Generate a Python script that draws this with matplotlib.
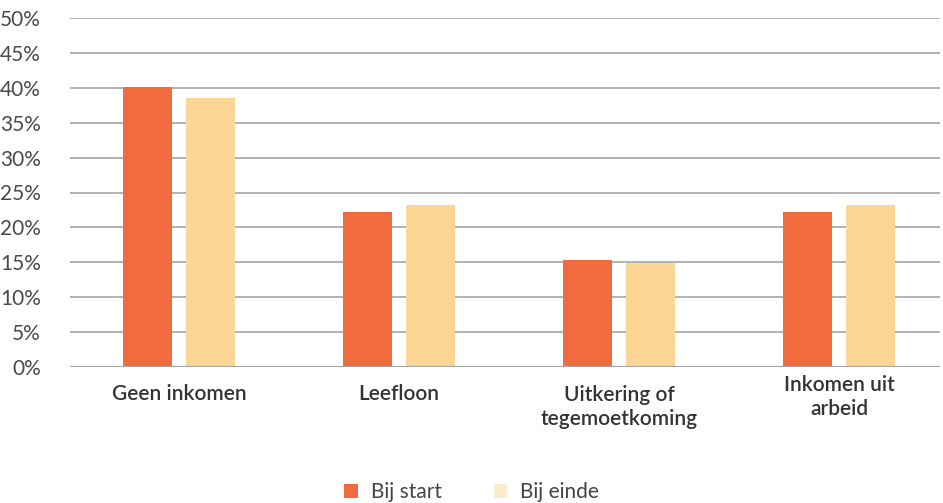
import numpy as np
import matplotlib.pyplot as plt
from matplotlib.patches import Patch
from matplotlib.transforms import blended_transform_factory

plt.rcParams["font.family"] = ["Lato", "DejaVu Sans"]

categorieen = ["Geen inkomen", "Leefloon", "Uitkering of\ntegemoetkoming", "Inkomen uit\narbeid"]
bij_start = [40.1, 22.2, 15.4, 22.2]
bij_einde = [38.6, 23.2, 14.9, 23.2]
yticks = [0, 5, 10, 15, 20, 25, 30, 35, 40, 45, 50]

ORANJE = "#F26B3F"
GEEL = "#FCD695"

fig = plt.figure(figsize=(9.43, 5.03), dpi=100)
ax = fig.add_axes([70 / 943, 1 - 367 / 503, 870 / 943, 349 / 503])

x = np.arange(len(categorieen))
b = 0.223
ax.bar(x - 0.143, bij_start, width=b, color=ORANJE, zorder=3)
ax.bar(x + 0.143, bij_einde, width=b, color=GEEL, zorder=3)

ax.set_xlim(-0.495, 3.459)
ax.set_ylim(0, 50)
ax.set_yticks(yticks)
ax.set_yticklabels([f"{v}%" for v in yticks], fontsize=15, color="#4a4a4a")
ax.tick_params(axis="y", length=0, pad=21)
ax.set_xticks([])
ax.yaxis.grid(True, color="#A6A6A6", linewidth=1.2, zorder=0)
for s in ax.spines.values():
    s.set_visible(False)
ax.axhline(0, color="#A6A6A6", linewidth=1.6, zorder=4)

# categorielabels onder de as, met eigen hoogte per label
tr = blended_transform_factory(ax.transData, fig.transFigure)
label_y = [394, 394, 407, 397]
for xi, lab, yp in zip(x, categorieen, label_y):
    ax.text(xi, 1 - yp / 503, lab, transform=tr, ha="center", va="center",
            fontsize=15, fontweight="semibold", color="#333333", linespacing=1.2)

handles = [Patch(facecolor=ORANJE, label="Bij start"),
           Patch(facecolor="#FDEBCF", label="Bij einde")]
fig.legend(handles=handles, loc="center", bbox_to_anchor=(0.5, 1 - 492 / 503),
           ncol=2, frameon=False, handlelength=0.65, handleheight=0.65,
           handletextpad=0.6, columnspacing=2.5, labelcolor="#444444",
           prop={"size": 15})

fig.savefig("out.png", dpi=100)
